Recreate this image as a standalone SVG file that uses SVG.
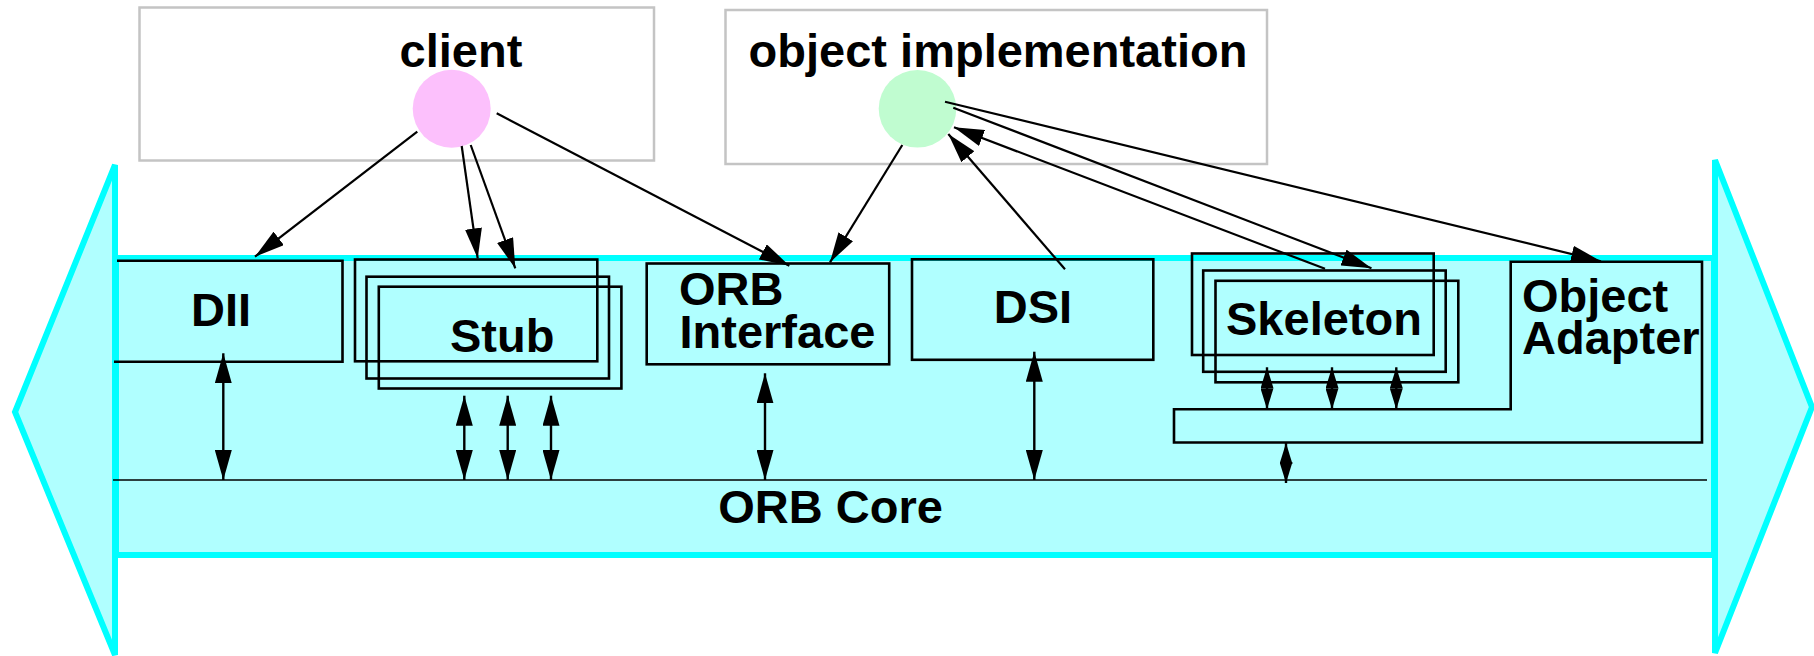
<svg xmlns="http://www.w3.org/2000/svg" width="1814" height="656" viewBox="0 0 1814 656">
<defs>
<style>
.t{font-family:"Liberation Sans",Arial,sans-serif;font-weight:bold;font-size:47px;fill:#000}
.band{fill:#b0ffff;stroke:#00ffff;stroke-width:6;stroke-linejoin:miter}
.box{fill:none;stroke:#000;stroke-width:2.6}
.host{fill:#fff;stroke:#c4c4c4;stroke-width:2.5}
.c{fill:none;stroke:#000;stroke-width:2.2}
.v{fill:none;stroke:#000;stroke-width:2.4}
</style>
<marker id="ah" viewBox="0 0 30 17" refX="30" refY="8.5" markerWidth="30" markerHeight="17" orient="auto-start-reverse" markerUnits="userSpaceOnUse"><path d="M0,0 L30,8.5 L0,17 z" fill="#000"/></marker>
<marker id="ahs" viewBox="0 0 21 13" refX="21" refY="6.5" markerWidth="21" markerHeight="13" orient="auto-start-reverse" markerUnits="userSpaceOnUse"><path d="M0,0 L21,6.5 L0,13 z" fill="#000"/></marker>
</defs>

<g id="orb-band">
<polygon class="band" points="115,165 15,412 115,655"/>
<polygon class="band" points="1715,160 1812,407 1715,653"/>
<rect class="band" x="116" y="258" width="1598" height="297" stroke-width="5"/>
<line x1="113" y1="480" x2="1707" y2="480" stroke="#000" stroke-width="1.6"/>
</g>

<g id="client">
<rect class="host" x="139.5" y="7.5" width="514.5" height="153"/>
<text class="t" x="461" y="67" text-anchor="middle">client</text>
<circle cx="451.7" cy="108.8" r="39" fill="#fcc0fc"/>
</g>

<g id="object-implementation">
<rect class="host" x="725.5" y="10" width="541.5" height="154"/>
<text class="t" x="998" y="67" text-anchor="middle">object implementation</text>
<circle cx="917.5" cy="108.8" r="38.8" fill="#c0fcd0"/>
</g>

<g id="dii">
<path class="box" d="M117,260.7 H342.5 V361.7 H114"/>
<text class="t" x="221" y="325.7" text-anchor="middle">DII</text>
</g>

<g id="stub">
<rect class="box" x="355" y="259.5" width="242.3" height="101.8"/>
<rect class="box" x="366.5" y="276.7" width="242.5" height="101.8"/>
<rect class="box" x="378.8" y="286.7" width="242.6" height="101.8"/>
<text class="t" x="450" y="351.7">Stub</text>
</g>

<g id="orb-interface">
<rect class="box" x="646.7" y="263.5" width="242.5" height="100.8"/>
<text class="t" x="679" y="304.5">ORB</text>
<text class="t" x="679.5" y="348.3">Interface</text>
</g>

<g id="dsi">
<rect class="box" x="912" y="259.3" width="241.3" height="100.5"/>
<text class="t" x="1033" y="323.3" text-anchor="middle">DSI</text>
</g>

<g id="skeleton">
<rect class="box" x="1192" y="253.5" width="241.7" height="101.5"/>
<rect class="box" x="1203.2" y="270.5" width="242.5" height="101.3"/>
<rect class="box" x="1215.5" y="280.8" width="242.8" height="101.5"/>
<text class="t" x="1226" y="335">Skeleton</text>
</g>

<g id="object-adapter">
<path class="box" d="M1510.7,261.7 H1702 V442.5 H1174 V409.3 H1510.7 Z"/>
<text class="t" x="1522" y="312">Object</text>
<text class="t" x="1522" y="353.5">Adapter</text>
</g>

<g id="orb-core">
<text class="t" x="718.3" y="523.3">ORB Core</text>
</g>

<g id="connectors">
<line class="c" x1="417.3" y1="131.7" x2="255" y2="256.7" marker-end="url(#ah)"/>
<line class="c" x1="461.7" y1="146" x2="477.7" y2="258.3" marker-end="url(#ah)"/>
<line class="c" x1="470.7" y1="145" x2="515.3" y2="268.3" marker-end="url(#ah)"/>
<line class="c" x1="496.7" y1="113.3" x2="789.4" y2="265.7" marker-end="url(#ah)"/>
<line class="c" x1="902.3" y1="145" x2="830" y2="262.3" marker-end="url(#ah)"/>
<line class="c" x1="1065" y1="269.3" x2="948.3" y2="134" marker-end="url(#ah)"/>
<line class="c" x1="1325" y1="268.8" x2="954" y2="127.3" marker-end="url(#ah)"/>
<line class="c" x1="953.3" y1="107.7" x2="1371.5" y2="268.3" marker-end="url(#ah)"/>
<line class="c" x1="945" y1="101.7" x2="1601" y2="261.2" marker-end="url(#ah)"/>

<line class="v" x1="223.3" y1="353.3" x2="223.3" y2="480" marker-start="url(#ah)" marker-end="url(#ah)"/>
<line class="v" x1="464.3" y1="395.7" x2="464.3" y2="480" marker-start="url(#ah)" marker-end="url(#ah)"/>
<line class="v" x1="507.7" y1="395.7" x2="507.7" y2="480" marker-start="url(#ah)" marker-end="url(#ah)"/>
<line class="v" x1="551" y1="395.7" x2="551" y2="480" marker-start="url(#ah)" marker-end="url(#ah)"/>
<line class="v" x1="765" y1="373.3" x2="765" y2="480" marker-start="url(#ah)" marker-end="url(#ah)"/>
<line class="v" x1="1034.3" y1="351.7" x2="1034.3" y2="480" marker-start="url(#ah)" marker-end="url(#ah)"/>
<line class="v" x1="1267" y1="367.3" x2="1267" y2="409.3" marker-start="url(#ahs)" marker-end="url(#ahs)"/>
<line class="v" x1="1332" y1="367.3" x2="1332" y2="409.3" marker-start="url(#ahs)" marker-end="url(#ahs)"/>
<line class="v" x1="1396.3" y1="367.3" x2="1396.3" y2="409.3" marker-start="url(#ahs)" marker-end="url(#ahs)"/>
<line class="v" x1="1286" y1="443" x2="1286" y2="483" marker-start="url(#ahs)" marker-end="url(#ahs)"/>
</g>
</svg>
